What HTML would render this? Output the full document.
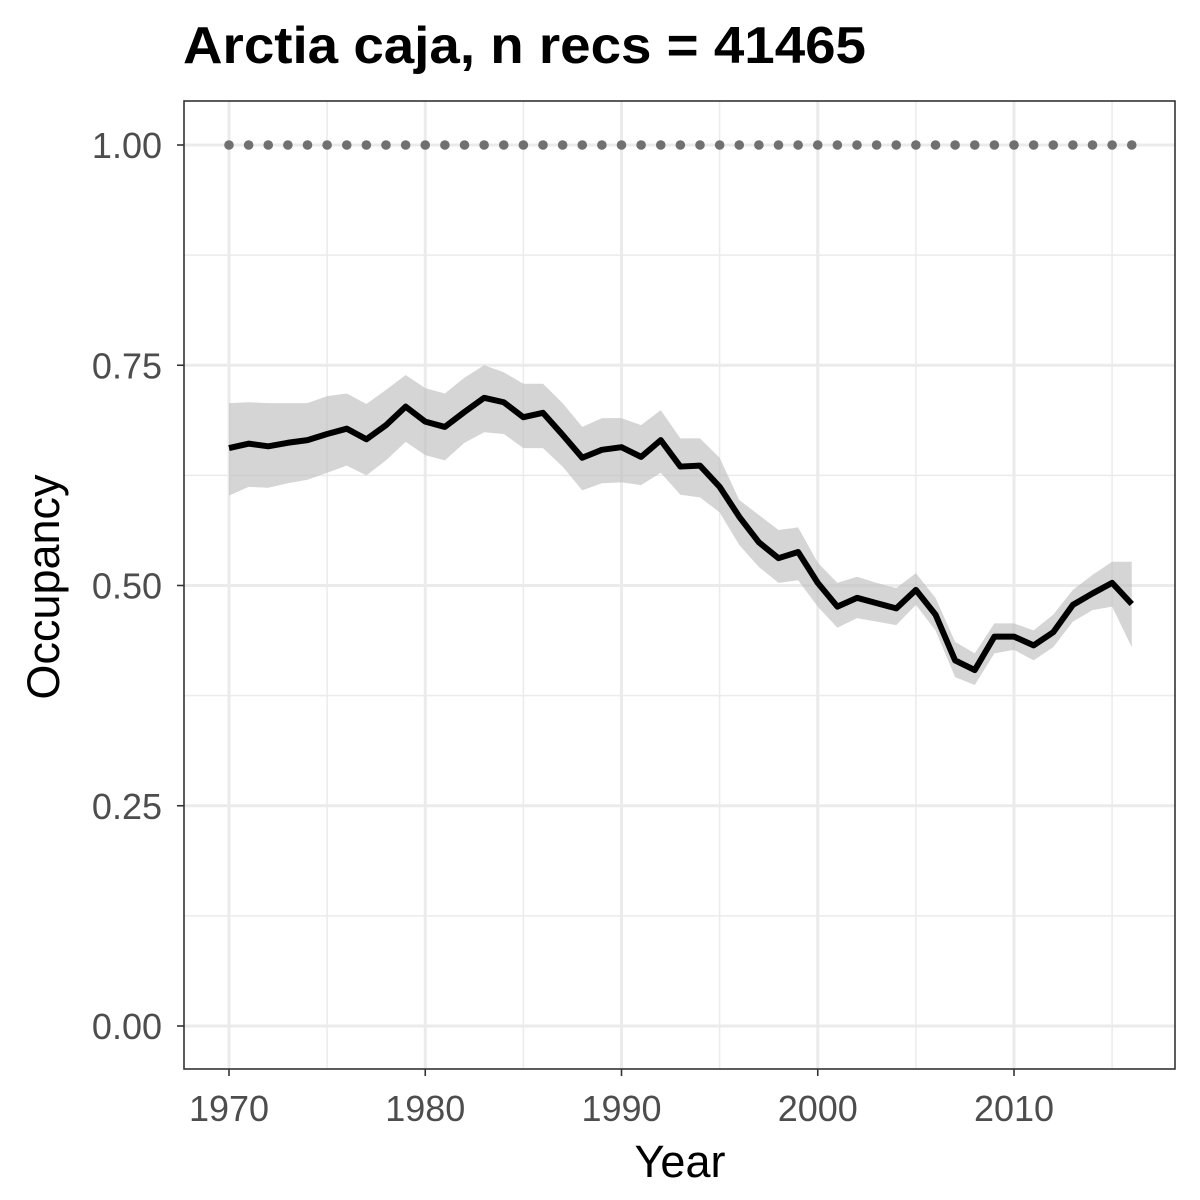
<!DOCTYPE html>
<html><head><meta charset="utf-8"><style>
html,body{margin:0;padding:0;background:#fff;}
svg{display:block;font-family:"Liberation Sans",Arial,sans-serif;}
</style></head><body>
<svg id="chart" width="1200" height="1200" viewBox="0 0 1200 1200">
<rect width="1200" height="1200" fill="#fff"/>
<text x="183" y="63" font-size="52" font-weight="bold" fill="#000" textLength="683" lengthAdjust="spacingAndGlyphs">Arctia caja, n recs = 41465</text>
<g id="grid"></g>
<g id="band"></g>
<g id="line"></g>
<g id="dots"></g>
<rect x="184" y="101" width="991" height="968" fill="none" stroke="#333" stroke-width="1.6"/>
<g id="axes"></g>
<text x="680" y="1177" font-size="45" text-anchor="middle" fill="#000">Year</text>
<text transform="translate(59,587) rotate(-90)" font-size="45" text-anchor="middle" fill="#000">Occupancy</text>
</svg>
<script>
const years = [1970,1971,1972,1973,1974,1975,1976,1977,1978,1979,1980,1981,1982,1983,1984,1985,1986,1987,1988,1989,1990,1991,1992,1993,1994,1995,1996,1997,1998,1999,2000,2001,2002,2003,2004,2005,2006,2007,2008,2009,2010,2011,2012,2013,2014,2015,2016];
const occupancy = [0.656,0.661,0.658,0.662,0.665,0.672,0.678,0.666,0.682,0.703,0.686,0.680,0.697,0.713,0.708,0.691,0.696,0.671,0.645,0.654,0.657,0.646,0.665,0.635,0.636,0.612,0.578,0.549,0.531,0.538,0.503,0.476,0.486,0.480,0.474,0.495,0.467,0.415,0.404,0.442,0.442,0.432,0.447,0.478,0.491,0.503,0.479];
const upper = [0.707,0.708,0.707,0.707,0.707,0.715,0.718,0.706,0.722,0.739,0.724,0.718,0.736,0.750,0.742,0.729,0.729,0.707,0.680,0.690,0.690,0.682,0.699,0.667,0.667,0.645,0.597,0.580,0.563,0.566,0.526,0.503,0.510,0.503,0.497,0.514,0.486,0.436,0.423,0.457,0.457,0.449,0.467,0.495,0.512,0.527,0.527];
const lower = [0.602,0.612,0.611,0.616,0.620,0.628,0.636,0.625,0.642,0.663,0.648,0.642,0.662,0.674,0.672,0.656,0.656,0.635,0.608,0.616,0.617,0.614,0.628,0.603,0.600,0.583,0.546,0.521,0.503,0.506,0.476,0.452,0.463,0.459,0.455,0.478,0.449,0.396,0.387,0.423,0.427,0.415,0.430,0.459,0.472,0.476,0.430];
const refLine = [1,1,1,1,1,1,1,1,1,1,1,1,1,1,1,1,1,1,1,1,1,1,1,1,1,1,1,1,1,1,1,1,1,1,1,1,1,1,1,1,1,1,1,1,1,1,1];
const xTicks = [1970,1980,1990,2000,2010];
const xMinor = [1975,1985,1995,2005,2015];
const yTicks = [0,0.25,0.5,0.75,1];
const yTickLabels = ["0.00","0.25","0.50","0.75","1.00"];
const yMinor = [0.125,0.375,0.625,0.875];

const X = v => 229 + (v - 1970) * 19.625;
const Y = v => 1026 - v * 881;
const NS = "http://www.w3.org/2000/svg";
function mk(tag, attrs, parent){ const e=document.createElementNS(NS,tag); for(const k in attrs) e.setAttribute(k,attrs[k]); parent.appendChild(e); return e; }
const grid=document.getElementById('grid'), band=document.getElementById('band'), line=document.getElementById('line'), dots=document.getElementById('dots'), axes=document.getElementById('axes');
mk('rect',{x:184,y:101,width:991,height:968,fill:'#fff'},grid);
yMinor.forEach(v=>{ const l=mk('line',{x1:184,x2:1175,y1:Y(v),y2:Y(v),stroke:'#ebebeb','stroke-width':1.5},grid);

 });
xMinor.forEach(v=>{ const l=mk('line',{x1:X(v),x2:X(v),y1:101,y2:1069,stroke:'#ebebeb','stroke-width':1.5},grid);

 });
yTicks.forEach(v=>{ const l=mk('line',{x1:184,x2:1175,y1:Y(v),y2:Y(v),stroke:'#ebebeb','stroke-width':3},grid);

 });
xTicks.forEach(v=>{ const l=mk('line',{x1:X(v),x2:X(v),y1:101,y2:1069,stroke:'#ebebeb','stroke-width':3},grid);

 });
let pts=years.map((y,i)=>X(y)+','+Y(upper[i]));
for(let i=years.length-1;i>=0;i--) pts.push(X(years[i])+','+Y(lower[i]));
const poly=mk('polygon',{points:pts.join(' '),fill:'#bebebe','fill-opacity':0.65},band);


const pl=mk('polyline',{points:years.map((y,i)=>X(y)+','+Y(occupancy[i])).join(' '),fill:'none',stroke:'#000','stroke-width':6,'stroke-linejoin':'round'},line);


years.forEach((y,i)=>{ const c=mk('circle',{cx:X(y),cy:Y(refLine[i]),r:4.8,fill:'#707070'},dots);

 });
yTicks.forEach((v,i)=>{ mk('line',{x1:177,x2:184,y1:Y(v),y2:Y(v),stroke:'#333','stroke-width':1.6},axes);
const t=mk('text',{x:162,y:Y(v)+13,'font-size':36,'text-anchor':'end',fill:'#4d4d4d'},axes); t.textContent=yTickLabels[i];

 });
xTicks.forEach(v=>{ mk('line',{x1:X(v),x2:X(v),y1:1069,y2:1076,stroke:'#333','stroke-width':1.6},axes);
const t=mk('text',{x:X(v),y:1121,'font-size':36,'text-anchor':'middle',fill:'#4d4d4d'},axes); t.textContent=String(v);

 });
</script>
</body></html>
